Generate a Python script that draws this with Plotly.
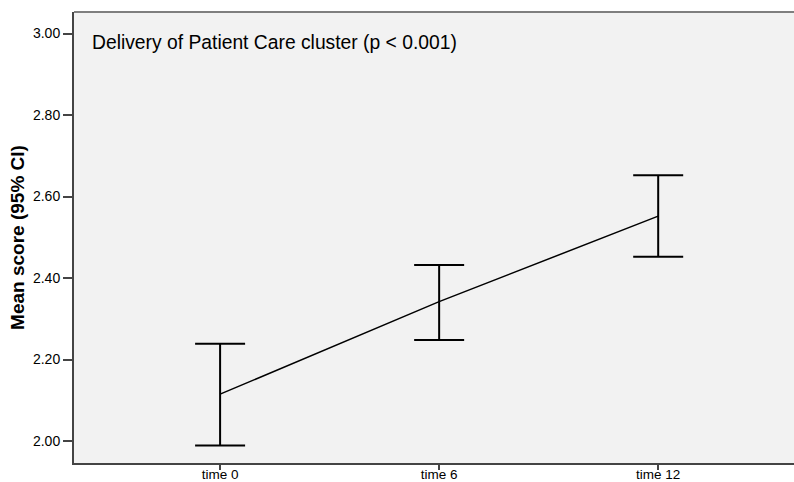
import plotly.graph_objects as go

categories = ["time 0", "time 6", "time 12"]
means = [2.115, 2.342, 2.552]
upper = [2.239, 2.432, 2.652]
lower = [1.989, 2.248, 2.452]

err_plus = [u - m for u, m in zip(upper, means)]
err_minus = [m - l for m, l in zip(means, lower)]

fig = go.Figure()
fig.add_trace(go.Scatter(
    x=[0, 1, 2], y=means, mode="lines",
    line=dict(color="black", width=1.5),
    error_y=dict(type="data", symmetric=False, array=err_plus, arrayminus=err_minus,
                 color="black", thickness=2, width=25),
    showlegend=False, hoverinfo="skip",
))

fig.update_layout(
    width=794, height=482,
    margin=dict(l=74, r=0, t=12, b=19, autoexpand=False),
    paper_bgcolor="white", plot_bgcolor="#f2f2f2",
    font=dict(family="Liberation Sans, Arial, sans-serif", color="black"),
    xaxis=dict(
        tickmode="array", tickvals=[0, 1, 2], ticktext=categories,
        range=[-0.667, 2.62], showgrid=False, zeroline=False, automargin=False,
        showline=True, linecolor="#444444", linewidth=2,
        ticks="outside", ticklen=5, tickwidth=2, tickcolor="#444444",
        tickfont=dict(size=13.5), ticklabelstandoff=-7,
    ),
    yaxis=dict(
        range=[1.946, 3.053], tickvals=[2.0, 2.2, 2.4, 2.6, 2.8, 3.0],
        tickformat=".2f", showgrid=False, zeroline=False, automargin=False,
        showline=True, linecolor="#444444", linewidth=2,
        ticks="outside", ticklen=9, tickwidth=2, tickcolor="#444444",
        tickfont=dict(size=14),
        title=dict(text="<b>Mean score (95% CI)</b>",
                   font=dict(size=19, family="Liberation Sans, Arial, sans-serif"),
                   standoff=3),
    ),
    shapes=[dict(type="line", xref="paper", yref="paper", x0=0, x1=1, y0=1, y1=1,
                 line=dict(color="#7f7f7f", width=2))],
    annotations=[dict(text="Delivery of Patient Care cluster (p < 0.001)",
                      xref="paper", yref="paper", x=0.0222, y=0.933,
                      xanchor="left", yanchor="middle", showarrow=False,
                      font=dict(size=19.3))],
)

fig.write_html("out.html", config={"displayModeBar": False},
               post_script="document.body.style.margin='0';document.body.style.overflow='hidden';")
